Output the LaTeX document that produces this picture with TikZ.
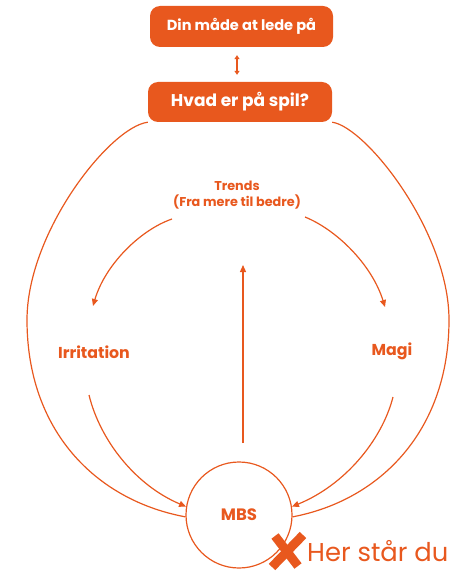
\documentclass[tikz,border=0pt]{standalone}
\usepackage{fontspec}
\setmainfont{Poppins}
\usetikzlibrary{arrows.meta}
\definecolor{mborange}{RGB}{232,88,30}

\begin{document}
\begin{tikzpicture}[x=1pt, y=-1pt,
        box/.style={rectangle, rounded corners=10pt, fill=mborange, text=white, inner sep=0pt},
        lbl/.style={text=mborange, font=\bfseries\fontsize{15.8}{18}\selectfont, inner sep=0pt},
        flow/.style={draw=mborange, line width=1.2pt, -{Triangle[length=7pt, width=6pt]}},
        ring/.style={draw=mborange, line width=1.2pt}]
        \useasboundingbox (0,0) rectangle (464,572);

        \node[box, minimum width=183pt, minimum height=41pt, font=\bfseries\fontsize{14.6}{16}\selectfont] (lede) at (241.5,26.5) {Din måde at lede på};
        \node[box, minimum width=184pt, minimum height=40pt, font=\bfseries\fontsize{17}{19}\selectfont] (spil) at (240,102) {Hvad er på spil?};
        \node[lbl, align=center, font=\bfseries\fontsize{12.8}{16}\selectfont] (trends) at (237,195) {Trends\\(Fra mere til bedre)};
        \node[lbl] (irritation) at (94,352) {Irritation};
        \node[lbl] (magi) at (392,351) {Magi};
        \node[circle, draw=mborange, line width=1.2pt, minimum size=106pt, lbl, font=\bfseries\fontsize{16.5}{18}\selectfont] (mbs) at (239,515) {MBS};
        \node[text=mborange, anchor=base west, inner sep=0pt, font=\fontsize{25.8}{30}\selectfont] (du) at (307,561) {Her står du};

        \coordinate (tl) at (172,219);
        \coordinate (tr) at (305,217);
        \coordinate (il) at (93,306);
        \coordinate (mr) at (385,307);
        \coordinate (ib) at (89,395);
        \coordinate (mb) at (393,397);
        \coordinate (base) at (243,443);
        \coordinate (top) at (243,265);

        % top link
        \draw[draw=mborange, line width=1.2pt, {Triangle[length=4pt, width=5pt]}-{Triangle[length=4pt, width=5pt]}] ([xshift=-4.5pt, yshift=-8pt]lede.south) -- ([xshift=-3pt, yshift=7pt]spil.north);

        % outer ring
        \draw[ring] (spil.south west) .. controls (110,127) and (27,232) .. (27,320)
                .. controls (27,430) and (95,500) .. (mbs.182);
        \draw[ring] (spil.south east) .. controls (366,127) and (449,232) .. (449,320)
                .. controls (449,430) and (381,500) .. (mbs.-2);

        % trends
        \draw[flow] (tl) .. controls (140,230) and (105,265) .. (il);
        \draw[flow] (tr) .. controls (337,230) and (372,265) .. (mr);
        \draw[flow] (ib) .. controls (100,440) and (135,485) .. (mbs.171);
        \draw[flow] (mb) .. controls (382,440) and (345,485) .. (mbs.9);
        \draw[flow] (base) -- (top);

        % mark
        \draw[mborange, line width=9pt] (275,536) -- (298,566);
        \draw[mborange, line width=9pt] (303,535) -- (272,567);
\end{tikzpicture}
\end{document}
